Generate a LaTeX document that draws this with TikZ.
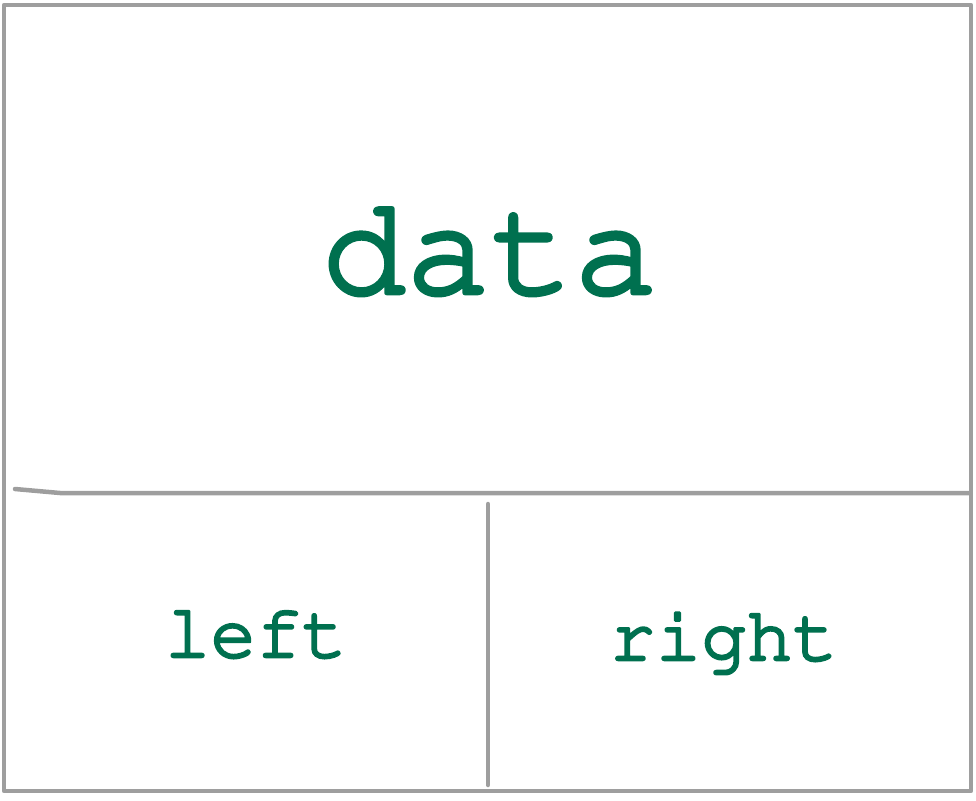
\documentclass[tikz,border=0pt]{standalone}
\usepackage[T1]{fontenc}
\definecolor{frame}{HTML}{9E9E9E}
\definecolor{txt}{HTML}{00704F}
\newcommand{\cour}{\fontencoding{T1}\fontfamily{pcr}\fontseries{m}\selectfont}
\newcommand{\thick}[2]{\special{pdf:code q 2 Tr #1 w 1 j}#2\special{pdf:code Q}}
\begin{document}
\begin{tikzpicture}[x=1pt,y=-1pt,
  frameline/.style={draw=frame,line width=4.5pt,line cap=round,line join=round},
  label/.style={text=txt,inner sep=0pt,anchor=base}]
\useasboundingbox (0,0) rectangle (976,800);
\coordinate (tl) at (4,5);
\coordinate (br) at (971,791);
\draw[frameline] (tl) rectangle (br);
\coordinate (hl) at (15,489);
\coordinate (hk) at (60,493);
\coordinate (hr) at (970,493);
\draw[frameline] (hl) -- (hk) -- (hr);
\coordinate (vt) at (488,504);
\coordinate (vb) at (488,785);
\draw[frameline] (vt) -- (vb);
\node[label,font=\cour\fontsize{140}{140}\selectfont] (data) at (490,293) {\thick{4.5}{data}};
\node[label,font=\cour\fontsize{76}{76}\selectfont] (left) at (256,657) {\thick{2.6}{left}};
\node[label,font=\cour\fontsize{76}{76}\selectfont] (right) at (724,660) {\thick{2.6}{right}};
\end{tikzpicture}
\end{document}
